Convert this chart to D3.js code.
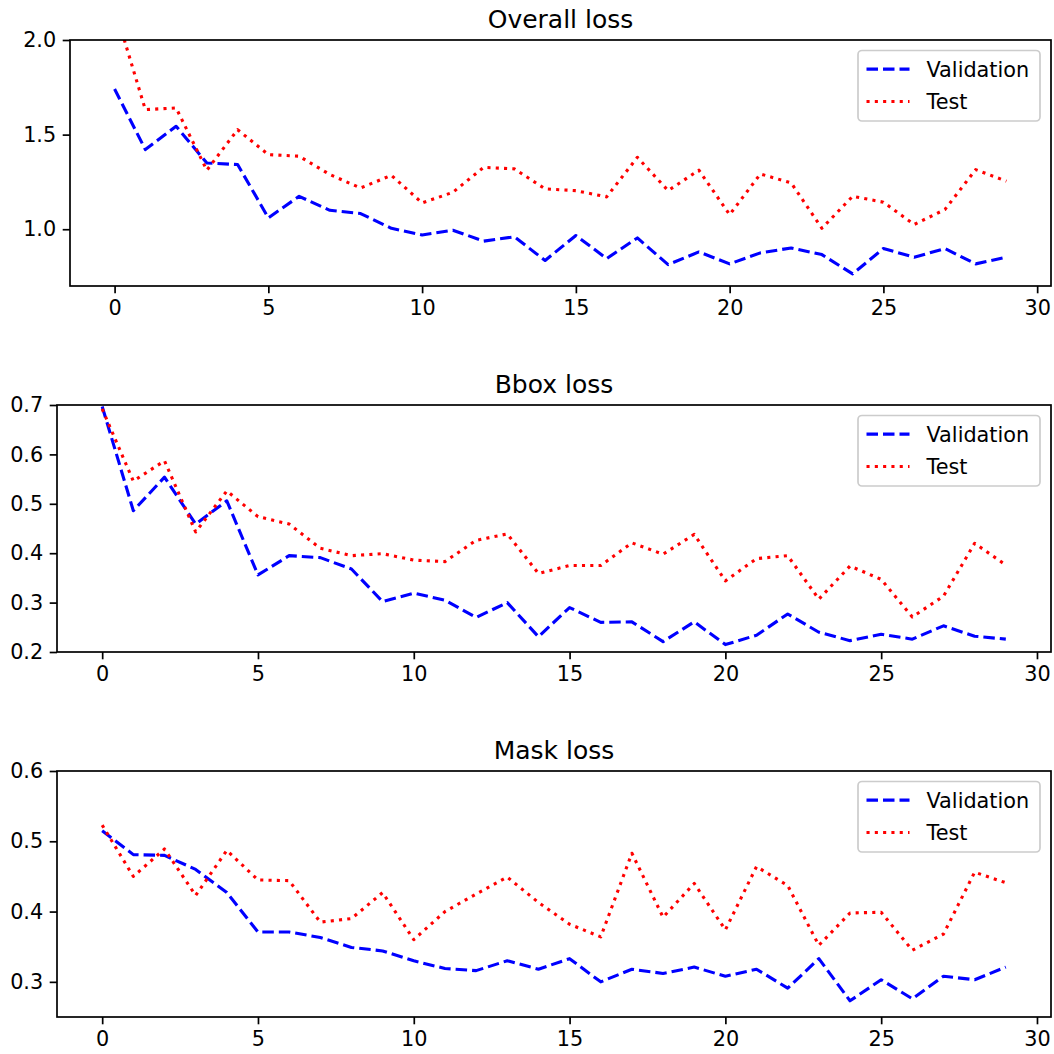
<!DOCTYPE html>
<head>
<meta charset="utf-8">
<style>
  body { margin: 0; background: white; }
  text { font-family: "DejaVu Sans", sans-serif; }
</style>
</head>
<body>
<div id="chart"></div>
<script src="https://d3js.org/d3.v7.min.js"></script>
<script>
// epochs on the x axis
var epochs = [0,1,2,3,4,5,6,7,8,9,10,11,12,13,14,15,16,17,18,19,20,21,22,23,24,25,26,27,28,29];
var xTicks = [0, 5, 10, 15, 20, 25, 30];

// Overall loss
var overallVal  = [1.741,1.421,1.544,1.350,1.342,1.060,1.174,1.100,1.083,1.005,0.970,0.995,0.937,0.960,0.835,
                   0.967,0.845,0.954,0.813,0.880,0.817,0.875,0.901,0.866,0.764,0.898,0.852,0.898,0.817,0.852];
var overallTest = [2.17,1.632,1.641,1.312,1.526,1.394,1.386,1.289,1.218,1.285,1.139,1.195,1.327,1.319,1.213,
                   1.204,1.171,1.380,1.204,1.312,1.077,1.292,1.245,1.005,1.174,1.143,1.025,1.104,1.315,1.254];
var overallTicks = [1.0, 1.5, 2.0];

// Bbox loss
var bboxVal  = [0.697,0.486,0.554,0.459,0.506,0.356,0.395,0.391,0.368,0.302,0.319,0.305,0.270,0.300,0.231,
                0.290,0.260,0.261,0.221,0.261,0.215,0.234,0.277,0.240,0.223,0.236,0.226,0.253,0.232,0.226];
var bboxTest = [0.692,0.546,0.587,0.443,0.526,0.474,0.459,0.410,0.395,0.399,0.386,0.383,0.426,0.439,0.359,
                0.375,0.375,0.421,0.398,0.438,0.344,0.389,0.395,0.307,0.374,0.347,0.271,0.313,0.420,0.376];
var bboxTicks = [0.2, 0.3, 0.4, 0.5, 0.6, 0.7];

// Mask loss
var maskVal  = [0.515,0.481,0.480,0.460,0.427,0.371,0.371,0.363,0.349,0.344,0.330,0.319,0.316,0.330,0.318,
                0.333,0.300,0.318,0.312,0.321,0.308,0.318,0.291,0.333,0.273,0.303,0.276,0.308,0.303,0.321];
var maskTest = [0.523,0.450,0.489,0.423,0.487,0.445,0.444,0.385,0.390,0.427,0.360,0.400,0.425,0.449,0.413,
                0.382,0.364,0.483,0.392,0.440,0.374,0.464,0.437,0.352,0.398,0.399,0.345,0.368,0.456,0.441];
var maskTicks = [0.3, 0.4, 0.5, 0.6];

var seriesNames = ["Validation", "Test"];

var W = 1054, H = 1054;
var svg = d3.select("#chart").append("svg")
    .attr("width", W).attr("height", H);

// panel layout
var panels = [
  {title: "Overall loss", val: overallVal, test: overallTest, ticks: overallTicks,
   yDomain: [0.70, 2.0], left: 70, right: 1051, top: 40, bottom: 286},
  {title: "Bbox loss", val: bboxVal, test: bboxTest, ticks: bboxTicks,
   yDomain: [0.2, 0.7], left: 57, right: 1051, top: 405, bottom: 652},
  {title: "Mask loss", val: maskVal, test: maskTest, ticks: maskTicks,
   yDomain: [0.25, 0.6], left: 57, right: 1051, top: 771, bottom: 1017}
];

var styles = [
  {color: "#0000ff", dash: "11.5,5"},
  {color: "#ff0000", dash: "3.1,5.2"}
];

panels.forEach(function(p, pi) {
  var x = d3.scaleLinear().domain([-1.45, 30.45]).range([p.left, p.right]);
  var y = d3.scaleLinear().domain(p.yDomain).range([p.bottom, p.top]);

  var g = svg.append("g");

  var clipId = "clip" + pi;
  svg.append("clipPath").attr("id", clipId)
    .append("rect")
      .attr("x", p.left).attr("y", p.top)
      .attr("width", p.right - p.left).attr("height", p.bottom - p.top);

  var line = d3.line()
    .x(function(d, i) { return x(epochs[i]); })
    .y(function(d) { return y(d); });

  [p.val, p.test].forEach(function(s, si) {
    g.append("path")
      .datum(s)
      .attr("clip-path", "url(#" + clipId + ")")
      .attr("fill", "none")
      .attr("stroke", styles[si].color)
      .attr("stroke-width", 3.1)
      .attr("stroke-dasharray", styles[si].dash)
      .attr("stroke-linejoin", "round")
      .attr("d", line);
  });

  // axes
  var xAxis = g.append("g")
    .attr("transform", "translate(0," + p.bottom + ")")
    .call(d3.axisBottom(x).tickValues(xTicks).tickSize(7.3).tickPadding(6.5).tickSizeOuter(0));
  var yAxis = g.append("g")
    .attr("transform", "translate(" + p.left + ",0)")
    .call(d3.axisLeft(y).tickValues(p.ticks).tickFormat(d3.format(".1f")).tickSize(7.3).tickPadding(6.5).tickSizeOuter(0));

  [xAxis, yAxis].forEach(function(a) {
    a.select(".domain").remove();
    a.selectAll(".tick line").attr("stroke", "#000").attr("stroke-width", 1.7);
    a.selectAll(".tick text").attr("fill", "#000")
      .style("font-size", "20.8px").style("font-family", "DejaVu Sans");
  });

  // frame
  g.append("rect")
    .attr("x", p.left).attr("y", p.top)
    .attr("width", p.right - p.left).attr("height", p.bottom - p.top)
    .attr("fill", "none").attr("stroke", "#000").attr("stroke-width", 1.7);

  // title
  g.append("text")
    .attr("x", (p.left + p.right) / 2).attr("y", p.top - 12.5)
    .attr("text-anchor", "middle")
    .style("font-size", "25px")
    .text(p.title);

  // legend
  var lx = p.right - 11 - 182, ly = p.top + 10.5;
  g.append("rect")
    .attr("x", lx).attr("y", ly).attr("width", 182).attr("height", 70.5)
    .attr("rx", 4).attr("ry", 4)
    .attr("fill", "white").attr("fill-opacity", 0.8)
    .attr("stroke", "#cccccc").attr("stroke-width", 1.7);

  seriesNames.forEach(function(name, si) {
    var cy = ly + 18.6 + si * 32.4;
    g.append("line")
      .attr("x1", lx + 8.5).attr("x2", lx + 51.5)
      .attr("y1", cy).attr("y2", cy)
      .attr("stroke", styles[si].color)
      .attr("stroke-width", 3.1)
      .attr("stroke-dasharray", styles[si].dash);
    g.append("text")
      .attr("x", lx + 68.5).attr("y", cy)
      .attr("dy", "0.36em")
      .style("font-size", "20.8px")
      .text(name);
  });
});
</script>
</body>
